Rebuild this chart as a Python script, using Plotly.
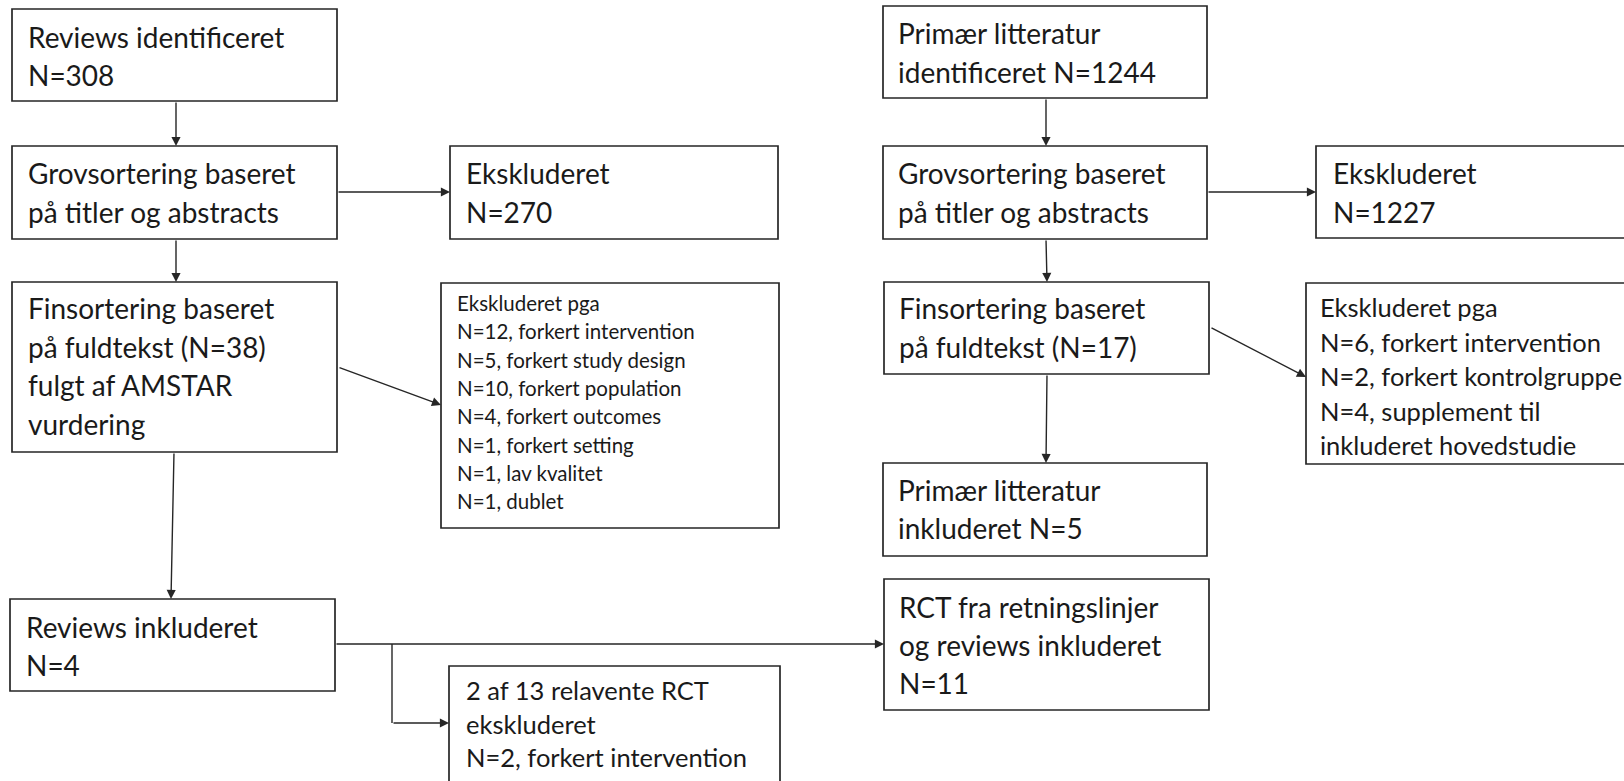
import plotly.graph_objects as go

W, H = 1624, 781

# ---- text content of each box ----
txt_reviews_id = ["Reviews identificeret", "N=308"]
txt_grov_left = ["Grovsortering baseret", "på titler og abstracts"]
txt_excl_270 = ["Ekskluderet", "N=270"]
txt_fin_left = ["Finsortering baseret", "på fuldtekst (N=38)", "fulgt af AMSTAR", "vurdering"]
txt_reasons_left = ["Ekskluderet pga", "N=12, forkert intervention", "N=5, forkert study design",
                    "N=10, forkert population", "N=4, forkert outcomes", "N=1, forkert setting",
                    "N=1, lav kvalitet", "N=1, dublet"]
txt_reviews_incl = ["Reviews inkluderet", "N=4"]
txt_rct_excl = ["2 af 13 relavente RCT", "ekskluderet", "N=2, forkert intervention"]
txt_prim_id = ["Primær litteratur", "identificeret N=1244"]
txt_grov_right = ["Grovsortering baseret", "på titler og abstracts"]
txt_excl_1227 = ["Ekskluderet", "N=1227"]
txt_fin_right = ["Finsortering baseret", "på fuldtekst (N=17)"]
txt_reasons_right = ["Ekskluderet pga", "N=6, forkert intervention", "N=2, forkert kontrolgruppe",
                     "N=4, supplement til", "inkluderet hovedstudie"]
txt_prim_incl = ["Primær litteratur", "inkluderet N=5"]
txt_rct_incl = ["RCT fra retningslinjer", "og reviews inkluderet", "N=11"]

# ---- layout of boxes (pixel coords): x0, y0, x1, y1, text-x, first line y, line spacing, font size ----
FS_MAIN, FS_MID, FS_SMALL = 28, 25.5, 20.5
box_texts = [txt_reviews_id, txt_grov_left, txt_excl_270, txt_fin_left, txt_reasons_left,
             txt_reviews_incl, txt_rct_excl, txt_prim_id, txt_grov_right, txt_excl_1227,
             txt_fin_right, txt_reasons_right, txt_prim_incl, txt_rct_incl]
box_geom = [
    (12, 9, 337, 101, 27, 37, 38, FS_MAIN),
    (12, 146, 337, 239, 27, 173, 39, FS_MAIN),
    (450, 146, 778, 239, 465, 173, 39, FS_MAIN),
    (12, 282, 337, 452, 27, 308, 38.5, FS_MAIN),
    (441, 283, 779, 528, 456, 303, 28.3, FS_SMALL),
    (10, 599, 335, 691, 25, 627, 38, FS_MAIN),
    (449, 666, 780, 820, 465, 690, 33.5, FS_MID),
    (883, 6, 1207, 98, 897, 33, 39, FS_MAIN),
    (883, 146, 1207, 239, 897, 173, 39, FS_MAIN),
    (1316, 146, 1720, 238, 1332, 173, 39, FS_MAIN),
    (884, 282, 1209, 374, 898, 308, 39, FS_MAIN),
    (1306, 283, 1720, 464, 1319, 307, 34.6, FS_MID),
    (883, 463, 1207, 556, 897, 490, 38, FS_MAIN),
    (884, 579, 1209, 710, 898, 607, 38, FS_MAIN),
]

# ---- connectors: (tail x, tail y, head x, head y) ----
arrows = [
    (176, 101, 176, 146), (337, 192, 450, 192), (176, 239, 176, 282),
    (338, 367, 441, 405), (174, 452, 171, 599), (335, 644, 884, 644),
    (392, 723, 449, 723),
    (1046, 98, 1046, 146), (1207, 192, 1316, 192), (1046, 239, 1047, 282),
    (1210, 327, 1306, 377), (1047, 374, 1046, 463),
]
plain_lines = [(392, 644, 392, 723)]

LINE_COL = "#262626"
TEXT_COL = "#1a1a1a"
FONT = "Lato, 'Open Sans', sans-serif"

fig = go.Figure()
fig.add_trace(go.Scatter(x=[0, W], y=[0, H], mode="markers", marker=dict(opacity=0),
                         hoverinfo="skip", showlegend=False))

shapes = []
annots = []
for lines, (x0, y0, x1, y1, tx, ty, sp, fs) in zip(box_texts, box_geom):
    shapes.append(dict(type="rect", xref="x", yref="y", x0=x0, y0=y0, x1=x1, y1=y1,
                       line=dict(color=LINE_COL, width=1.7), fillcolor="rgba(0,0,0,0)"))
    for i, t in enumerate(lines):
        annots.append(dict(x=tx, y=ty + i * sp, xref="x", yref="y", text=t, showarrow=False,
                           xanchor="left", yanchor="middle", borderpad=0,
                           font=dict(family=FONT, size=fs, color=TEXT_COL)))

for (xa, ya, xb, yb) in plain_lines:
    shapes.append(dict(type="line", xref="x", yref="y", x0=xa, y0=ya, x1=xb, y1=yb,
                       line=dict(color=LINE_COL, width=1.4)))

for (xa, ya, xb, yb) in arrows:
    annots.append(dict(x=xb, y=yb, ax=xa, ay=ya, xref="x", yref="y", axref="x", ayref="y",
                       text="", showarrow=True, arrowhead=2, arrowsize=1.3, arrowwidth=1.4,
                       arrowcolor=LINE_COL, standoff=0, startstandoff=0))

fig.update_layout(
    width=W, height=H, margin=dict(l=0, r=0, t=0, b=0),
    paper_bgcolor="white", plot_bgcolor="white",
    xaxis=dict(range=[0, W], visible=False, fixedrange=True),
    yaxis=dict(range=[H, 0], visible=False, fixedrange=True),
    shapes=shapes, annotations=annots, showlegend=False,
)

fig.write_html("out.html", config={"displayModeBar": False},
               post_script="document.body.style.margin='0';document.body.style.overflow='hidden';")
